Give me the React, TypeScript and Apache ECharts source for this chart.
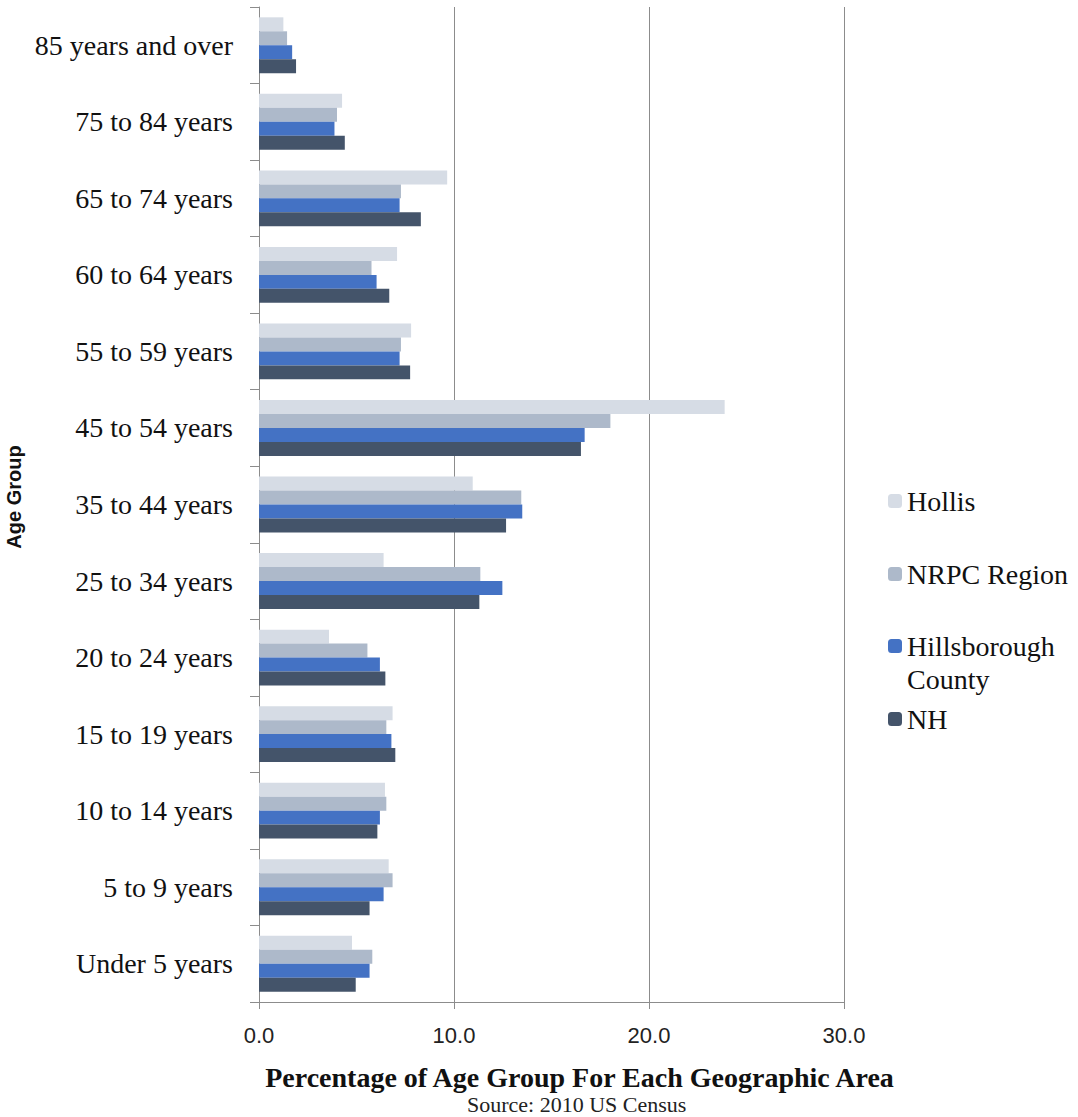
import React, { useEffect, useRef } from "react";
import * as echarts from "echarts";

const categories = [
  "85 years and over",
  "75 to 84 years",
  "65 to 74 years",
  "60 to 64 years",
  "55 to 59 years",
  "45 to 54 years",
  "35 to 44 years",
  "25 to 34 years",
  "20 to 24 years",
  "15 to 19 years",
  "10 to 14 years",
  "5 to 9 years",
  "Under 5 years",
];

const hollis = [1.25, 4.26, 9.65, 7.08, 7.8, 23.88, 10.96, 6.39, 3.59, 6.85, 6.46, 6.65, 4.77];
const nrpc = [1.44, 4.0, 7.28, 5.77, 7.28, 18.02, 13.45, 11.35, 5.56, 6.53, 6.53, 6.85, 5.81];
const hillsborough = [1.7, 3.87, 7.21, 6.03, 7.21, 16.7, 13.5, 12.48, 6.2, 6.79, 6.2, 6.39, 5.67];
const nh = [1.9, 4.4, 8.3, 6.68, 7.75, 16.51, 12.67, 11.3, 6.48, 6.99, 6.07, 5.67, 4.96];

const seriesNames = ["Hollis", "NRPC Region", "Hillsborough County", "NH"];
const seriesColors = ["#d6dce5", "#adb9ca", "#4472c4", "#44546a"];
const seriesData = [hollis, nrpc, hillsborough, nh];

const xTicks = [0, 10, 20, 30];

export default function App() {
  const ref = useRef<HTMLDivElement>(null);
  useEffect(() => {
    document.body.style.margin = "0";
    const chart = echarts.init(ref.current!, null, { renderer: "svg" });
    const serif = "Liberation Serif";
    const legendTops = [484.5, 557.5, 596.5, 702.5];
    chart.setOption({
      animation: false,
      backgroundColor: "#ffffff",
      textStyle: { fontFamily: serif },
      grid: {
        left: 259,
        right: 234,
        top: 7,
        bottom: 115,
        containLabel: false,
        outerBoundsMode: "none",
      },
      xAxis: {
        type: "value",
        min: xTicks[0],
        max: xTicks[xTicks.length - 1],
        interval: 10,
        axisLine: { show: true, lineStyle: { color: "#8c8c8c", width: 1 } },
        axisTick: { show: true, length: 7, lineStyle: { color: "#8c8c8c" } },
        splitLine: { show: true, lineStyle: { color: "#8c8c8c", width: 1 } },
        axisLabel: {
          formatter: (v: number) => v.toFixed(1),
          fontFamily: "Liberation Sans",
          fontSize: 22,
          color: "#222",
          margin: 22,
        },
        name: "Percentage of Age Group For Each Geographic Area",
        nameLocation: "middle",
        nameGap: 61,
        nameTextStyle: {
          fontFamily: serif,
          fontWeight: "bold",
          fontSize: 28,
          color: "#111",
          padding: [0, 0, 0, 56],
        },
      },
      yAxis: {
        type: "category",
        data: categories,
        inverse: true,
        axisLine: { show: true, lineStyle: { color: "#8c8c8c", width: 1 } },
        axisTick: { show: true, length: 9, lineStyle: { color: "#8c8c8c" } },
        axisLabel: {
          fontFamily: serif,
          fontSize: 28,
          color: "#111",
          margin: 26,
        },
        name: "Age Group",
        nameLocation: "middle",
        nameRotate: 90,
        nameGap: 218,
        nameTextStyle: {
          fontFamily: "Liberation Sans",
          fontWeight: "bold",
          fontSize: 20,
          color: "#111",
          padding: [0, 0, 0, 15],
        },
      },
      legend: seriesNames.map((n, i) => ({
        data: [n],
        orient: "vertical",
        left: 888,
        top: legendTops[i],
        padding: 0,
        itemWidth: 14,
        itemHeight: 14,
        selectedMode: false,
        formatter: (name: string) =>
          name === "Hillsborough County" ? "\nHillsborough\nCounty" : name,
        textStyle: { fontFamily: serif, fontSize: 28, color: "#111", lineHeight: 33 },
      })),
      series: seriesNames.map((n, i) => ({
        name: n,
        type: "bar",
        data: seriesData[i],
        barGap: "0%",
        barCategoryGap: "27%",
        itemStyle: { color: seriesColors[i] },
      })),
      graphic: [
        {
          type: "text",
          left: 467,
          top: 1093,
          style: {
            text: "Source: 2010 US Census",
            fontFamily: serif,
            fontSize: 22,
            fill: "#222",
          },
        },
      ],
    });
    return () => chart.dispose();
  }, []);
  return <div ref={ref} style={{ width: 1078, height: 1117 }} />;
}
